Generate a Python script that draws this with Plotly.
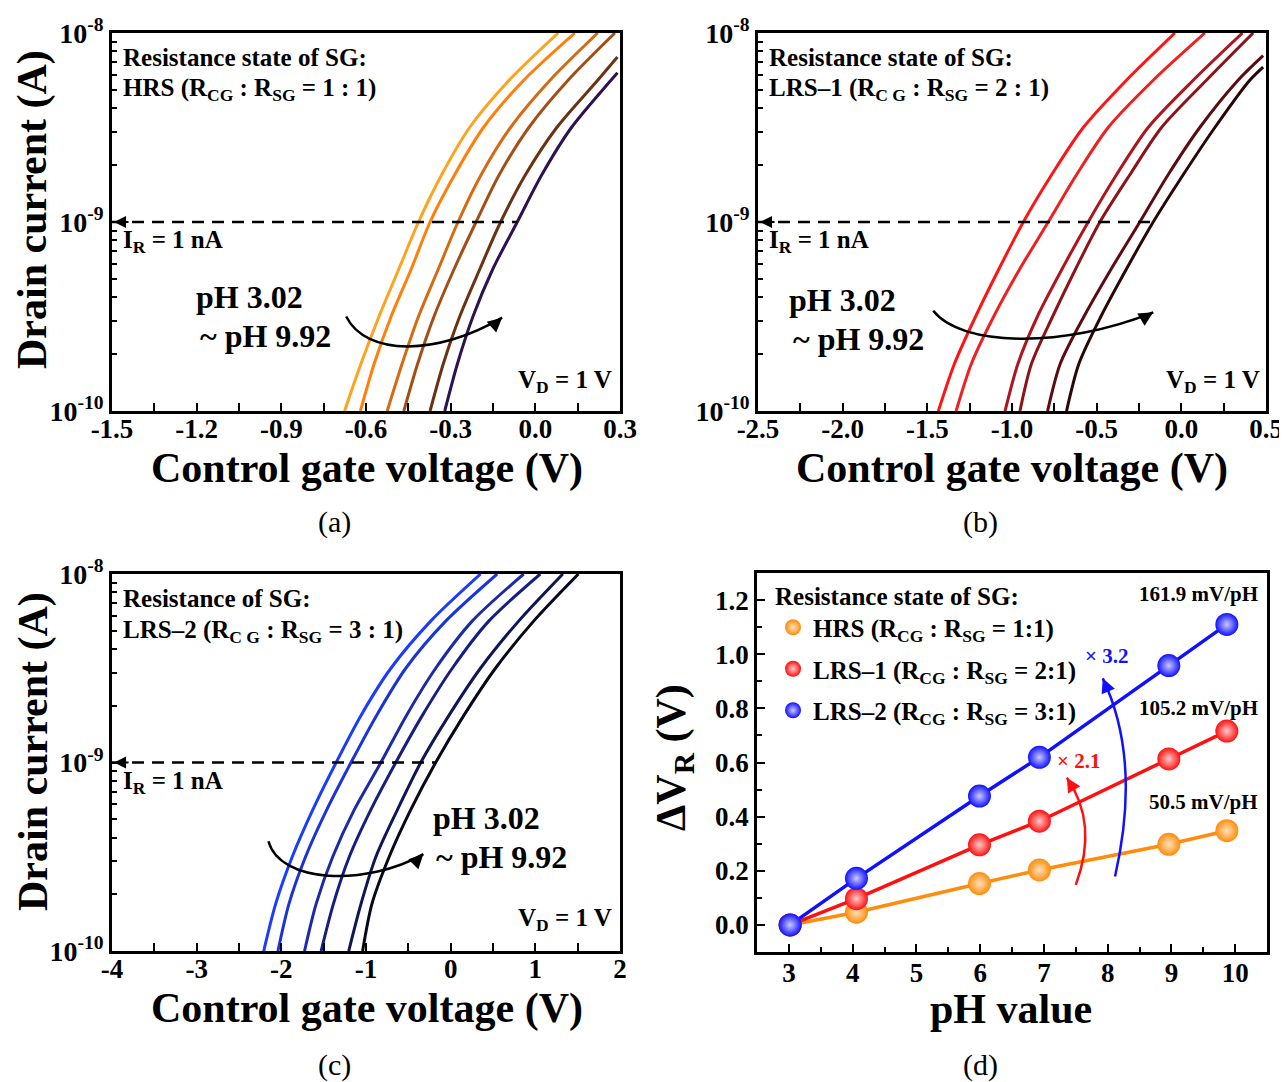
import plotly.graph_objects as go

# ---------------- data ----------------
LOG_LEVELS = [-10, -9.75, -9.5, -9.25, -9, -8.75, -8.5, -8.25, -8]

# panel (a) HRS : control gate voltage per curve (pH 3.02 -> 9.92)
va = [
    [-0.676, -0.618, -0.554, -0.484, -0.414, -0.332, -0.233, -0.093, 0.081],
    [-0.620, -0.571, -0.511, -0.440, -0.373, -0.286, -0.184, -0.041, 0.140],
    [-0.525, -0.472, -0.414, -0.344, -0.274, -0.192, -0.088, 0.052, 0.221],
    [-0.466, -0.417, -0.359, -0.288, -0.210, -0.128, -0.023, 0.116, 0.282],
    [-0.373, -0.326, -0.268, -0.197, -0.123, -0.035, 0.076, 0.221, 0.291],
    [-0.321, -0.276, -0.221, -0.151, -0.064, 0.023, 0.128, 0.268, 0.291],
]
la = [LOG_LEVELS] * 4 + [LOG_LEVELS[:8] + [-8.127], LOG_LEVELS[:8] + [-8.21]]
col_a = ["#FFA21F", "#FF7F0A", "#D46A12", "#A24F16", "#6A3210", "#2C1250"]

# panel (b) LRS-1
vb = [
    [-1.435, -1.340, -1.215, -1.078, -0.933, -0.766, -0.579, -0.324, -0.038],
    [-1.330, -1.240, -1.108, -0.955, -0.786, -0.619, -0.432, -0.166, 0.139],
    [-1.041, -0.965, -0.850, -0.705, -0.550, -0.383, -0.196, 0.070, 0.361],
    [-0.953, -0.885, -0.760, -0.625, -0.481, -0.304, -0.117, 0.148, 0.424],
    [-0.790, -0.715, -0.575, -0.415, -0.245, -0.078, 0.109, 0.335, 0.483],
    [-0.678, -0.605, -0.475, -0.325, -0.166, 0.011, 0.198, 0.404, 0.483],
]
lb = [LOG_LEVELS] * 4 + [LOG_LEVELS[:8] + [-8.12], LOG_LEVELS[:8] + [-8.18]]
col_b = ["#FF1414", "#EE2020", "#B0141C", "#8C1418", "#5C0C0E", "#2A0606"]

# panel (c) LRS-2
vc = [
    [-2.208, -2.067, -1.871, -1.628, -1.353, -1.059, -0.706, -0.236, 0.353],
    [-2.040, -1.910, -1.714, -1.463, -1.177, -0.875, -0.530, -0.059, 0.549],
    [-1.726, -1.589, -1.393, -1.138, -0.824, -0.522, -0.177, 0.254, 0.862],
    [-1.530, -1.385, -1.197, -0.942, -0.648, -0.334, 0.019, 0.450, 1.058],
    [-1.204, -1.059, -0.883, -0.628, -0.353, -0.020, 0.352, 0.803, 1.325],
    [-1.040, -0.930, -0.726, -0.471, -0.177, 0.156, 0.529, 0.980, 1.509],
]
lc = [LOG_LEVELS] * 6
col_c = ["#1A3CFF", "#1A34D8", "#1A2AA8", "#141F80", "#0E1756", "#08081C"]

# panel (d) reference-voltage shift vs pH
ph = [3.02, 4.06, 5.99, 6.93, 8.96, 9.87]
dv_hrs = [0.0, 0.047, 0.153, 0.203, 0.298, 0.348]
dv_lrs1 = [0.0, 0.097, 0.296, 0.383, 0.613, 0.716]
dv_lrs2 = [0.0, 0.172, 0.476, 0.619, 0.958, 1.110]
names_d = ["HRS (R<sub>CG</sub> : R<sub>SG</sub> = 1:1)",
           "LRS\u20131 (R<sub>CG</sub> : R<sub>SG</sub> = 2:1)",
           "LRS\u20132 (R<sub>CG</sub> : R<sub>SG</sub> = 3:1)"]
col_d = ["#FF8C0A", "#FF1010", "#1010FF"]
hi_d = ["#FFE2BE", "#FFCACA", "#CACAFF"]
sens_labels = ["50.5 mV/pH", "105.2 mV/pH", "161.9 mV/pH"]

# tick values
xt_a = [-1.5, -1.2, -0.9, -0.6, -0.3, 0.0, 0.3]
xt_b = [-2.5, -2.0, -1.5, -1.0, -0.5, 0.0, 0.5]
xt_c = [-4, -3, -2, -1, 0, 1, 2]

# ---------------- layout constants ----------------
# page has an 8px body margin: the figure origin sits at page (8, 8)
OFF = 8
W, H = 1287 - OFF, 1082 - OFF
FONT = "Liberation Serif"

def px(X):
    return (X - OFF) / W

def py(Y):
    return 1 - (Y - OFF) / H

def xd(p0, p1):
    return [px(p0), px(p1)]

def yd(top, bot):
    return [py(bot), py(top)]

fig = go.Figure()

def add_curves(vs, ls, cols, xa, ya):
    for v, l, c in zip(vs, ls, cols):
        fig.add_trace(go.Scatter(x=v, y=[10 ** e for e in l], mode="lines",
                                 line=dict(color=c, width=3, shape="spline", smoothing=0.8),
                                 xaxis=xa, yaxis=ya, showlegend=False, hoverinfo="skip"))

add_curves(va, la, col_a, "x", "y")
add_curves(vb, lb, col_b, "x2", "y2")
add_curves(vc, lc, col_c, "x3", "y3")

# dashed I_R = 1 nA reference lines (from left edge to last curve's crossing)
for xr, vs, xa, ya in [(-1.5, va, "x", "y"), (-2.5, vb, "x2", "y2"), (-4, vc, "x3", "y3")]:
    fig.add_trace(go.Scatter(x=[xr, vs[-1][4]], y=[1e-9, 1e-9], mode="lines",
                             line=dict(color="black", width=2.5, dash="12px,8px"),
                             xaxis=xa, yaxis=ya, showlegend=False, hoverinfo="skip"))

# panel (d): lines first, then markers (markers carry the legend)
for dv, c in zip([dv_hrs, dv_lrs1, dv_lrs2], col_d):
    fig.add_trace(go.Scatter(x=ph, y=dv, mode="lines", line=dict(color=c, width=3.5),
                             xaxis="x4", yaxis="y4", showlegend=False, hoverinfo="skip"))
for i, (dv, nm, c, hc) in enumerate(zip([dv_hrs, dv_lrs1, dv_lrs2], names_d, col_d, hi_d)):
    fig.add_trace(go.Scatter(x=ph, y=dv, mode="markers", name=nm, legendgroup=f"g{i}",
                             marker=dict(size=23, color=c, line=dict(width=0),
                                         gradient=dict(type="radial", color=hc)),
                             xaxis="x4", yaxis="y4"))

tickfont = dict(family=FONT, size=27, color="black", weight="bold")
axcommon = dict(showline=True, linecolor="black", linewidth=2.5, mirror=True,
                ticks="inside", ticklen=8, tickwidth=2, tickcolor="black", automargin=False,
                showgrid=False, zeroline=False, tickfont=tickfont)
minor_lin = dict(ticks="inside", ticklen=8, tickwidth=2, tickcolor="black", showgrid=False)

minor_log = [m * 10 ** e for e in (-10, -9) for m in range(2, 10)]
ylog = dict(axcommon, type="log", range=[-10, -8], tickmode="array",
            tickvals=[1e-10, 1e-9, 1e-8],
            ticktext=["10<sup>-10</sup>", "10<sup>-9</sup>", "10<sup>-8</sup>"],
            tickfont=dict(tickfont, size=28),
            minor=dict(tickmode="array", tickvals=minor_log, ticks="inside",
                       ticklen=5, tickwidth=1.5, tickcolor="black", showgrid=False))

def xlab(vals, fmt):
    return [(fmt % v) for v in vals]

dom_ax = xd(112, 620)
dom_bx = xd(758, 1266)
dom_top = yd(33, 411)
dom_bot_c = yd(574, 951)
dom_dx = xd(757, 1267)
dom_dy = yd(573, 952)

fig.update_layout(
    width=W, height=H, margin=dict(l=0, r=0, t=0, b=0, autoexpand=False),
    paper_bgcolor="white", plot_bgcolor="white",
    font=dict(family=FONT, color="black"),
    xaxis=dict(axcommon, domain=dom_ax, anchor="y", range=[-1.5, 0.3], tickmode="array",
               tickvals=xt_a, ticktext=xlab(xt_a, "%.1f"), ticklabelstandoff=-8,
               minor=dict(minor_lin, tickmode="linear", tick0=-1.5, dtick=0.15)),
    yaxis=dict(ylog, domain=dom_top, anchor="x"),
    xaxis2=dict(axcommon, domain=dom_bx, anchor="y2", range=[-2.5, 0.5], tickmode="array",
                tickvals=xt_b, ticktext=xlab(xt_b, "%.1f"), ticklabelstandoff=-8,
                minor=dict(minor_lin, tickmode="linear", tick0=-2.5, dtick=0.25)),
    yaxis2=dict(ylog, domain=dom_top, anchor="x2"),
    xaxis3=dict(axcommon, domain=dom_ax, anchor="y3", range=[-4, 2], tickmode="array",
                tickvals=xt_c, ticktext=xlab(xt_c, "%d"), ticklabelstandoff=-8,
                minor=dict(minor_lin, tickmode="linear", tick0=-4, dtick=0.5)),
    yaxis3=dict(ylog, domain=dom_bot_c, anchor="x3"),
    xaxis4=dict(axcommon, domain=dom_dx, anchor="y4", range=[2.5, 10.5], tick0=3, dtick=1,
                ticklabelstandoff=-5, minor=dict(minor_lin, dtick=0.5, ticklen=5)),
    yaxis4=dict(axcommon, domain=dom_dy, anchor="x4", range=[-0.1, 1.3], tick0=0, dtick=0.2,
                tickformat=".1f", minor=dict(minor_lin, dtick=0.1, ticklen=5)),
    legend=dict(x=px(773), y=py(572), xanchor="left", yanchor="top",
                bgcolor="rgba(0,0,0,0)", font=dict(family=FONT, size=25, weight="bold"),
                title=dict(text="Resistance state of SG:", font=dict(family=FONT, size=25, weight="bold")),
                itemsizing="trace", tracegroupgap=6, itemwidth=30),
)

annots = []

def txt(x, y, s, size=25, xanchor="left", yanchor="middle", color="black", bold=True, angle=0):
    annots.append(dict(x=px(x), y=py(y), xref="paper", yref="paper", text=s, showarrow=False,
                       xanchor=xanchor, yanchor=yanchor, textangle=angle,
                       font=dict(family=FONT, size=size, color=color, weight="bold" if bold else "normal")))

# panel (a)
txt(121, 57, "Resistance state of SG:")
txt(121, 90, "HRS (R<sub>CG</sub> : R<sub>SG</sub> = 1 : 1)")
txt(121, 242, "I<sub>R</sub> = 1 nA")
txt(194, 297, "pH 3.02", size=32)
txt(198, 336, "~ pH 9.92", size=32)
txt(614, 381, "V<sub>D</sub> = 1 V", xanchor="right")
# panel (b)
txt(767, 57, "Resistance state of SG:")
txt(767, 90, "LRS\u20131 (R<sub>C G</sub> : R<sub>SG</sub> = 2 : 1)")
txt(767, 242, "I<sub>R</sub> = 1 nA")
txt(787, 300, "pH 3.02", size=32)
txt(791, 339, "~ pH 9.92", size=32)
txt(1262, 381, "V<sub>D</sub> = 1 V", xanchor="right")
# panel (c)
txt(121, 598, "Resistance of SG:")
txt(121, 631, "LRS\u20132 (R<sub>C G</sub> : R<sub>SG</sub> = 3 : 1)")
txt(121, 782, "I<sub>R</sub> = 1 nA")
txt(431, 818, "pH 3.02", size=32)
txt(434, 857, "~ pH 9.92", size=32)
txt(614, 919, "V<sub>D</sub> = 1 V", xanchor="right")
# panel (d)
txt(1260, 594, sens_labels[2], size=21, xanchor="right")
txt(1260, 708, sens_labels[1], size=21, xanchor="right")
txt(1260, 802, sens_labels[0], size=21, xanchor="right")
txt(1083, 656, "\u00d7 3.2", size=21, color="#1010FF")
txt(1055, 761, "\u00d7 2.1", size=21, color="#FF1010")

# axis titles
for cy in (210, 752):
    txt(33, cy, "Drain current (A)", size=42, xanchor="center", angle=-90)
txt(367, 469, "Control gate voltage (V)", size=42, xanchor="center")
txt(1012, 469, "Control gate voltage (V)", size=42, xanchor="center")
txt(367, 1008, "Control gate voltage (V)", size=42, xanchor="center")
txt(674, 758, "\u0394V<sub>R</sub> (V)", size=42, xanchor="center", angle=-90)
txt(1011, 1009, "pH value", size=42, xanchor="center")
# panel labels
for x, y, s in [(334, 522, "(a)"), (980, 522, "(b)"), (334, 1065, "(c)"), (980, 1065, "(d)")]:
    txt(x, y, s, size=30, xanchor="center", bold=False)

# arrowheads on dashed lines and curved arrows
for xa, ya in [("x", "y"), ("x2", "y2"), ("x3", "y3")]:
    annots.append(dict(x=0.004, y=0.5, xref=f"{xa} domain", yref=f"{ya} domain", ax=16, ay=0,
                       showarrow=True, arrowhead=2, arrowsize=1.2, arrowwidth=2, arrowcolor="black", text=""))

shapes = []
curved = [
    ("x", "y", "M 0.461,0.250 C 0.50,0.145 0.64,0.145 0.768,0.247", "black", (0.768, 0.247), (-9, 8)),
    ("x2", "y2", "M 0.345,0.265 C 0.40,0.17 0.60,0.165 0.778,0.261", "black", (0.778, 0.261), (-10, 6)),
    ("x3", "y3", "M 0.308,0.291 C 0.33,0.18 0.50,0.17 0.613,0.257", "black", (0.613, 0.257), (-8, 8)),
    ("x4", "y4", "M 0.625,0.177 Q 0.670,0.338 0.6075,0.460", "#FF1010", (0.6075, 0.460), (6, 10)),
    ("x4", "y4", "M 0.702,0.199 Q 0.754,0.507 0.678,0.722", "#1010FF", (0.678, 0.722), (5, 12)),
]
for xa, ya, path, c, end, off in curved:
    shapes.append(dict(type="path", xref=f"{xa} domain", yref=f"{ya} domain", path=path,
                       line=dict(color=c, width=2.5)))
    annots.append(dict(x=end[0], y=end[1], xref=f"{xa} domain", yref=f"{ya} domain", ax=off[0], ay=off[1],
                       showarrow=True, arrowhead=2, arrowsize=1.3, arrowwidth=2.2, arrowcolor=c, text=""))

fig.update_layout(annotations=annots, shapes=shapes)
fig.write_html("out.html")
